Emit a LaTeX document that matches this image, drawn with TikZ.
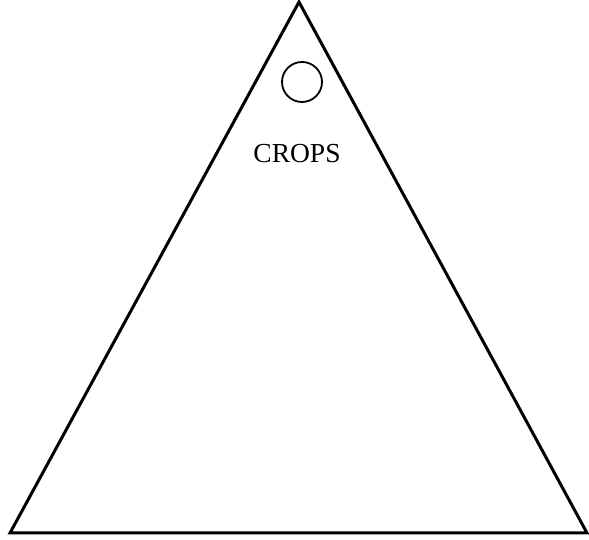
\documentclass[tikz,border=0pt]{standalone}
\usepackage{fontspec}
\setmainfont{Liberation Serif}
\begin{document}
\begin{tikzpicture}[x=1pt,y=1pt,
  edge/.style={line width=3pt, line join=miter},
  hole/.style={circle, draw, line width=1.8pt, minimum size=40pt, inner sep=0pt},
  lbl/.style={font=\fontsize{27.5}{30}\selectfont}]
\useasboundingbox (0,0) rectangle (589,540);
\coordinate (top) at (299,538);
\coordinate (bl) at (10,7);
\coordinate (br) at (587,7);
\draw[edge] (top) -- (bl) -- (br) -- cycle;
\node[hole] (c) at (302,458) {};
\node[lbl] (t) at (297,386) {CROPS};
\end{tikzpicture}
\end{document}
